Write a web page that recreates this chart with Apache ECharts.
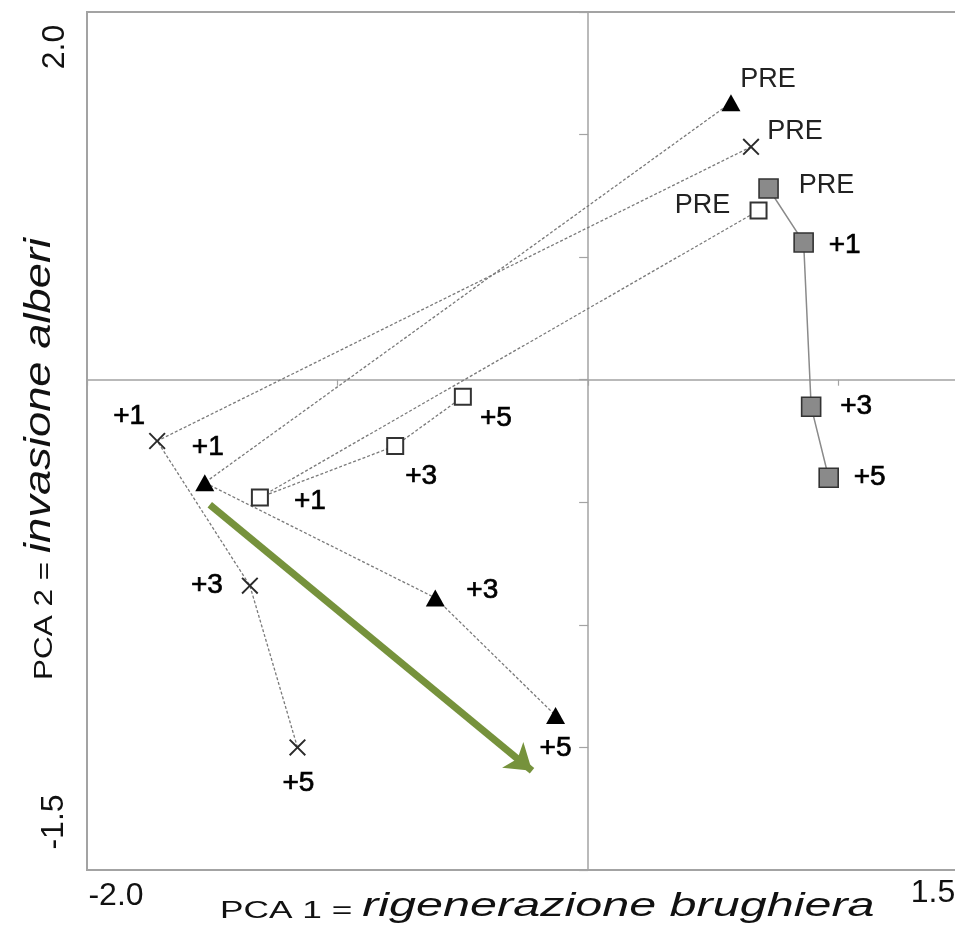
<!DOCTYPE html>
<html>
<head>
<meta charset="utf-8">
<script src="https://cdn.jsdelivr.net/npm/echarts@6/dist/echarts.min.js"></script>
<style>
html,body{margin:0;padding:0;background:#fff;overflow:hidden;}
#chart{width:980px;height:933px;}
</style>
</head>
<body>
<div id="chart"></div>
<script>
// ---- data ----
const stages = ['PRE', '+1', '+3', '+5'];

const triangleX = [0.57, -1.53, -0.61, -0.13];
const triangleY = [1.13, -0.42, -0.89, -1.37];

const crossX = [0.65, -1.72, -1.35, -1.16];
const crossY = [0.95, -0.25, -0.84, -1.50];

const openSquareX = [0.68, -1.31, -0.77, -0.50];
const openSquareY = [0.69, -0.48, -0.27, -0.07];

const greySquareX = [0.72, 0.86, 0.89, 0.96];
const greySquareY = [0.78, 0.56, -0.11, -0.40];

const arrowFrom = [-1.51, -0.51];
const arrowTo = [-0.224, -1.595];

const xTickLabels = ['-2.0', '1.5'];
const yTickLabels = ['2.0', '-1.5'];
const xTitle = ['PCA 1 = ', 'rigenerazione brughiera'];
const yTitle = ['PCA 2 = ', 'invasione alberi'];

// ---- styling (label offsets in px, relative to the marker) ----
const labelOffsets = {
  triangle: [[37, -23], [3, -35], [47, -8], [0, 33]],
  cross: [[44, -15], [-28, -25], [-43, 0], [1, 36]],
  openSquare: [[-56, -5], [50, 4], [26, 30], [33, 21]],
  greySquare: [[58, -3], [41, 3], [45, 0], [41, 0]]
};

const FONT = '"Liberation Sans", Arial, Helvetica, sans-serif';
const dotted = { color: '#7a7a7a', width: 1.3, type: [3, 2] };

function buildSeries(name, xs, ys, offsets, extra) {
  const data = xs.map((x, i) => ({
    name: stages[i],
    value: [x, ys[i]],
    label: i === 0
      ? { show: true, position: 'inside', offset: offsets[i], color: '#222', fontSize: 27 }
      : { show: true, position: 'inside', offset: offsets[i], color: '#000', fontSize: 28,
          textBorderColor: '#000', textBorderWidth: 0.7 }
  }));
  return Object.assign({
    type: 'line',
    name: name,
    data: data,
    showSymbol: true,
    silent: true,
    animation: false,
    emphasis: { disabled: true },
    label: {
      show: true,
      position: 'inside',
      formatter: '{b}',
      fontSize: 27,
      fontFamily: FONT,
      align: 'center',
      verticalAlign: 'middle'
    }
  }, extra);
}

const chart = echarts.init(document.getElementById('chart'), null, { renderer: 'canvas' });

const option = {
  backgroundColor: '#fff',
  animation: false,
  grid: {
    left: 87, top: 12, width: 877, height: 858,
    outerBoundsMode: 'none',
    show: true, borderColor: '#a3a3a3', borderWidth: 2, backgroundColor: '#fff'
  },
  xAxis: {
    type: 'value', min: -2, max: 1.5, interval: 1,
    axisLine: { onZero: true, lineStyle: { color: '#a3a3a3', width: 1.5 } },
    axisTick: { show: true, length: 6, lineStyle: { color: '#a3a3a3', width: 1.2 } },
    axisLabel: { show: false },
    splitLine: { show: false }
  },
  yAxis: {
    type: 'value', min: -2, max: 1.5, interval: 0.5,
    axisLine: { onZero: true, lineStyle: { color: '#a3a3a3', width: 1.5 } },
    axisTick: { show: true, length: 9, lineStyle: { color: '#a3a3a3', width: 1.2 } },
    axisLabel: { show: false },
    splitLine: { show: false }
  },
  series: [
    buildSeries('triangle', triangleX, triangleY, labelOffsets.triangle, {
      symbol: 'triangle', symbolSize: [19, 17],
      itemStyle: { color: '#000' },
      lineStyle: dotted,
      z: 3
    }),
    buildSeries('cross', crossX, crossY, labelOffsets.cross, {
      symbol: 'path://M0,0.8L0.8,0L5,4.2L9.2,0L10,0.8L5.8,5L10,9.2L9.2,10L5,5.8L0.8,10L0,9.2L4.2,5Z',
      symbolSize: 17,
      itemStyle: { color: '#2a2a2a' },
      lineStyle: dotted,
      z: 3
    }),
    buildSeries('openSquare', openSquareX, openSquareY, labelOffsets.openSquare, {
      symbol: 'rect', symbolSize: 16,
      itemStyle: { color: '#fff', borderColor: '#333', borderWidth: 2 },
      lineStyle: dotted,
      z: 3
    }),
    buildSeries('greySquare', greySquareX, greySquareY, labelOffsets.greySquare, {
      symbol: 'rect', symbolSize: 19,
      itemStyle: { color: '#8a8a8a', borderColor: '#333', borderWidth: 1.6 },
      lineStyle: { color: '#8a8a8a', width: 1.5, type: 'solid' },
      z: 3
    }),
    {
      type: 'line',
      name: 'trend',
      data: [],
      silent: true,
      z: 4,
      markLine: {
        silent: true,
        animation: false,
        symbol: ['none', 'arrow'],
        symbolSize: 25,
        label: { show: false },
        emphasis: { disabled: true },
        lineStyle: { color: '#76923c', width: 7, type: 'solid' },
        data: [[{ coord: arrowFrom }, { coord: arrowTo }]]
      }
    }
  ],
  graphic: [
    { type: 'text', x: 116, y: 896, silent: true,
      style: { text: xTickLabels[0], fontSize: 32, fontFamily: FONT, fill: '#111', align: 'center', verticalAlign: 'middle' } },
    { type: 'text', x: 933, y: 893, silent: true,
      style: { text: xTickLabels[1], fontSize: 32, fontFamily: FONT, fill: '#111', align: 'center', verticalAlign: 'middle' } },
    { type: 'text', x: 55, y: 47, rotation: Math.PI / 2, silent: true,
      style: { text: yTickLabels[0], fontSize: 32, fontFamily: FONT, fill: '#111', align: 'center', verticalAlign: 'middle' } },
    { type: 'text', x: 54, y: 822, rotation: Math.PI / 2, silent: true,
      style: { text: yTickLabels[1], fontSize: 32, fontFamily: FONT, fill: '#111', align: 'center', verticalAlign: 'middle' } },
    { type: 'text', x: 220, y: 923, scaleX: 1.47, silent: true,
      style: {
        text: '{a|' + xTitle[0] + '}{b|' + xTitle[1] + '}',
        align: 'left', verticalAlign: 'bottom',
        rich: {
          a: { fontSize: 24, fontFamily: FONT, fill: '#111', verticalAlign: 'bottom' },
          b: { fontSize: 33, fontFamily: FONT, fontStyle: 'italic', fill: '#111', verticalAlign: 'bottom' }
        }
      } },
    { type: 'text', x: 58, y: 680, rotation: Math.PI / 2, scaleX: 1.26, silent: true,
      style: {
        text: '{a|' + yTitle[0] + '}{b|' + yTitle[1] + '}',
        align: 'left', verticalAlign: 'bottom',
        rich: {
          a: { fontSize: 25, fontFamily: FONT, fill: '#111', verticalAlign: 'bottom' },
          b: { fontSize: 36, fontFamily: FONT, fontStyle: 'italic', fill: '#111', verticalAlign: 'bottom' }
        }
      } }
  ]
};

chart.setOption(option);
</script>
</body>
</html>
